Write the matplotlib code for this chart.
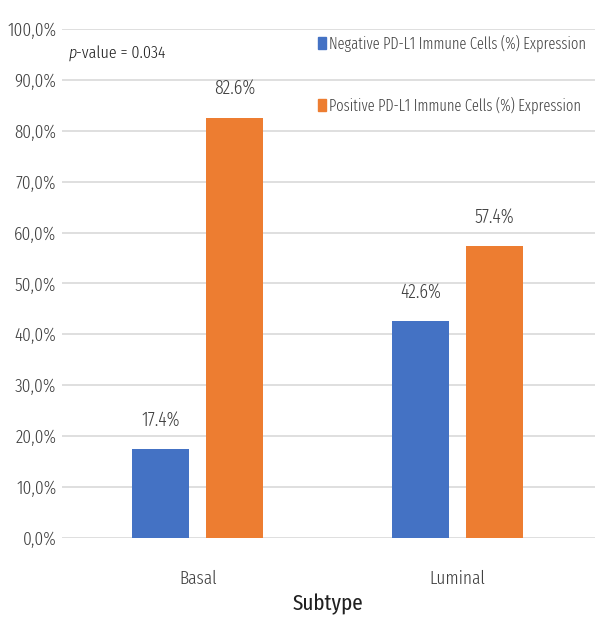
import matplotlib
matplotlib.use("Agg")
import matplotlib.pyplot as plt
from matplotlib.patches import Patch

subtypes = ["Basal", "Luminal"]
negative = [17.4, 42.6]
positive = [82.6, 57.4]
series_labels = ["Negative PD-L1 Immune Cells (%) Expression",
                 "Positive PD-L1 Immune Cells (%) Expression"]
yticks = [0, 10, 20, 30, 40, 50, 60, 70, 80, 90, 100]
p_text = "0.034"

FONT = ["Fira Sans Extra Condensed", "DejaVu Sans"]
plt.rcParams["font.family"] = FONT
plt.rcParams["font.weight"] = 300

blue = "#4472C4"
orange = "#ED7D31"
txt = "#404040"
fs = 13.5

fig = plt.figure(figsize=(6.0, 6.23), dpi=100)
ax = fig.add_axes([0.103, 0.1364, 0.888, 0.8171])

x = list(range(len(subtypes)))
w = 0.22
off = 0.142
bn = ax.bar([i - off for i in x], negative, width=w, color=blue, zorder=3)
bp = ax.bar([i + off for i in x], positive, width=w, color=orange, zorder=3)

for bars, vals in ((bn, negative), (bp, positive)):
    for b, v in zip(bars, vals):
        ax.annotate(f"{v:.1f}%", (b.get_x() + b.get_width() / 2, v),
                    xytext=(0, 14), textcoords="offset points",
                    ha="center", va="bottom", fontsize=14, color=txt)

ax.set_xlim(-0.523, 1.527)
ax.set_ylim(0, 100)
ax.set_yticks(yticks)
ax.set_yticklabels([f"{t},0%" for t in yticks])
ax.set_xticks(x)
ax.set_xticklabels(subtypes)
ax.tick_params(axis="both", length=0, labelsize=fs, colors=txt)
ax.tick_params(axis="y", pad=4)
ax.tick_params(axis="x", pad=23)
ax.grid(axis="y", color="#d9d9d9", linewidth=1.2, zorder=0)
for s in ax.spines.values():
    s.set_visible(False)

ax.set_xlabel("Subtype", fontsize=16.5, color="#202020", labelpad=4)

# italic "p" followed by the rest of the annotation
p_lbl = ax.text(0.012, 0.943, "p", transform=ax.transAxes, ha="left",
                va="baseline", fontsize=12.5, style="italic", color="#202020")
ax.annotate("-value = " + p_text, xy=(1, 0), xycoords=p_lbl,
            ha="left", va="bottom", fontsize=12.5, color="#202020")

handles = [Patch(color=blue), Patch(color=orange)]
ax.legend(handles, series_labels, loc="upper right", bbox_to_anchor=(1.01, 1.017),
          frameon=False, fontsize=11.3, labelspacing=2.85, handlelength=0.5,
          handleheight=0.75, handletextpad=0.2, labelcolor=txt)

fig.savefig("out.png", dpi=100, facecolor="white")
